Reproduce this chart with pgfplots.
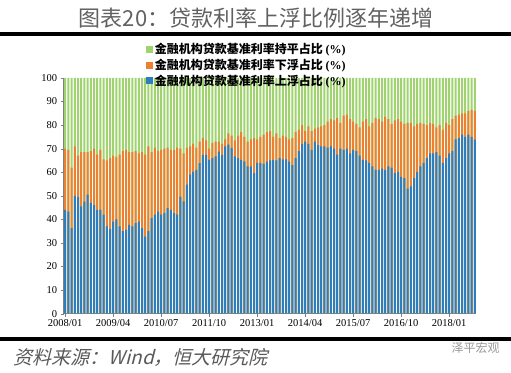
\documentclass[border=0pt]{standalone}
\usepackage{pgfplots}
\pgfplotsset{compat=1.18}
\usepackage{pgfplotstable}
\usepackage{fontspec}
\setmainfont{Liberation Serif}
\newfontfamily\cjk{Noto Sans CJK SC}
\newfontfamily\cjkit[FakeSlant=0.25]{Noto Sans CJK SC}
\definecolor{cblue}{RGB}{44,126,190}
\definecolor{corange}{RGB}{234,128,48}
\definecolor{cgreen}{RGB}{160,210,112}

\pgfplotstableread{
i up top all
0 44 70 100
1 43.3 69.5 100
2 36.3 62 100
3 50 71 100
4 49.5 67 100
5 45.5 68.5 100
6 47.5 68.5 100
7 50.5 68.5 100
8 47 69 100
9 46 70 100
10 44 67.5 100
11 44 69.5 100
12 42 65.5 100
13 37 65 100
14 36 66 100
15 39 67 100
16 40 66.5 100
17 37 67.5 100
18 35 69 100
19 35.5 69.5 100
20 37.7 68.5 100
21 37 68.5 100
22 38.4 69 100
23 39 68 100
24 36.3 68.5 100
25 32.7 67.5 100
26 35 71 100
27 40.5 68.5 100
28 42 70.5 100
29 43.3 69 100
30 42 69.5 100
31 42.6 70 100
32 44.8 70.5 100
33 44 69.5 100
34 42.6 69.5 100
35 42 70.5 100
36 49.7 70 100
37 47.6 68 100
38 54.7 70.5 100
39 59 71 100
40 60.3 72 100
41 61 70.5 100
42 63.9 73 100
43 67.4 74.5 100
44 67.4 73.5 100
45 65.3 70 100
46 66 72.5 100
47 66.7 73 100
48 68.8 73 100
49 67.4 72 100
50 71 74 100
51 71.7 76.5 100
52 70.3 75.5 100
53 66.7 73.5 100
54 66 75.5 100
55 65.3 77 100
56 64.6 75 100
57 62.5 73 100
58 62.5 74 100
59 59.6 74.5 100
60 64 74 100
61 64 75 100
62 63.5 76 100
63 64.5 77 100
64 65 77.5 100
65 65.3 75 100
66 65 76.5 100
67 66 74.5 100
68 65.5 75.5 100
69 65.5 75 100
70 64.5 74 100
71 63 74.5 100
72 66 77 100
73 69 78 100
74 72 80 100
75 73 77.5 100
76 72 79.5 100
77 69.5 77.5 100
78 73 78.5 100
79 71.5 79 100
80 71 79.5 100
81 71 80 100
82 70.5 81.5 100
83 71 82.5 100
84 70 82 100
85 67.5 83 100
86 70 81 100
87 69.5 84 100
88 70 84.5 100
89 68 82.5 100
90 69.5 81.5 100
91 69 80.5 100
92 67 79 100
93 65.3 81.5 100
94 65 82.5 100
95 64 79.5 100
96 62.5 81 100
97 61 83 100
98 61 82.5 100
99 61.5 81.5 100
100 61 83.5 100
101 62.5 82.5 100
102 62 80.5 100
103 59.6 82 100
104 60 82.5 100
105 58 81.5 100
106 57.5 80.5 100
107 53 81 100
108 54 81 100
109 57.5 79.5 100
110 60 80.5 100
111 62.5 81 100
112 64 80.5 100
113 66 80 100
114 68 81 100
115 68 80.5 100
116 68.5 79 100
117 67 80 100
118 64 78 100
119 66 81 100
120 68 80 100
121 69 82.5 100
122 74 84 100
123 74.5 84.5 100
124 76 85 100
125 75 85 100
126 76 86 100
127 75 86.5 100
128 73.8 86 100
}\datatable

\begin{document}
\begin{tikzpicture}[x=1pt,y=1pt]
\path[use as bounding box] (0,0) rectangle (511,372);
\fill[black] (0,336) rectangle (511,340);
\fill[black] (0,31.3) rectangle (511,35.3);
\node[font=\cjk\fontsize{22}{24}\selectfont, text=black!62] at (256,354) {图表20：贷款利率上浮比例逐年递增};
\node[anchor=west, font=\cjkit\fontsize{19}{22}\selectfont, text=black!65] at (10,15) {资料来源：Wind，恒大研究院};
\node[anchor=west, font=\cjk\fontsize{12}{14}\selectfont, text=black!40] at (448,24) {泽平宏观};
\begin{axis}[
  at={(63.6pt,58.4pt)}, anchor=south west,
  scale only axis, width=412.8pt, height=235.6pt,
  xmin=-0.5, xmax=128.5, ymin=0, ymax=100,
  axis x line*=bottom, axis y line*=left,
  axis line style={-, black!50},
  xtick={0,15,30,45,60,75,90,105,120},
  xticklabels={2008/01,2009/04,2010/07,2011/10,2013/01,2014/04,2015/07,2016/10,2018/01},
  ytick={0,10,...,100},
  tick align=outside, major tick length=3pt,
  tick style={black!50},
  /pgf/number format/assume math mode=true,
  tick label style={font=\fontsize{10.5}{12}\selectfont, text=black},
  xticklabel style={yshift=1pt},
  legend style={at={(0.199,1.157)}, anchor=north west, draw=none, fill=none,
    font=\cjk\bfseries\fontsize{12}{14}\selectfont, inner sep=0pt, row sep=0pt,
    cells={anchor=west}},
]
\addplot[ybar, bar width=2pt, bar shift=0pt, fill=cgreen, draw=none,
  legend image code/.code={\fill[cgreen] (0pt,-3.5pt) rectangle (7pt,3.5pt);}]
  table[x=i, y=all] {\datatable};
\addlegendentry{金融机构贷款基准利率持平占比 {\rmfamily\bfseries(\%)}}
\addplot[ybar, bar width=2pt, bar shift=0pt, fill=corange, draw=none,
  legend image code/.code={\fill[corange] (0pt,-3.5pt) rectangle (7pt,3.5pt);}]
  table[x=i, y=top] {\datatable};
\addlegendentry{金融机构贷款基准利率下浮占比 {\rmfamily\bfseries(\%)}}
\addplot[ybar, bar width=2pt, bar shift=0pt, fill=cblue, draw=none,
  legend image code/.code={\fill[cblue] (0pt,-3.5pt) rectangle (7pt,3.5pt);}]
  table[x=i, y=up] {\datatable};
\addlegendentry{金融机构贷款基准利率上浮占比 {\rmfamily\bfseries(\%)}}
\end{axis}
\end{tikzpicture}
\end{document}
